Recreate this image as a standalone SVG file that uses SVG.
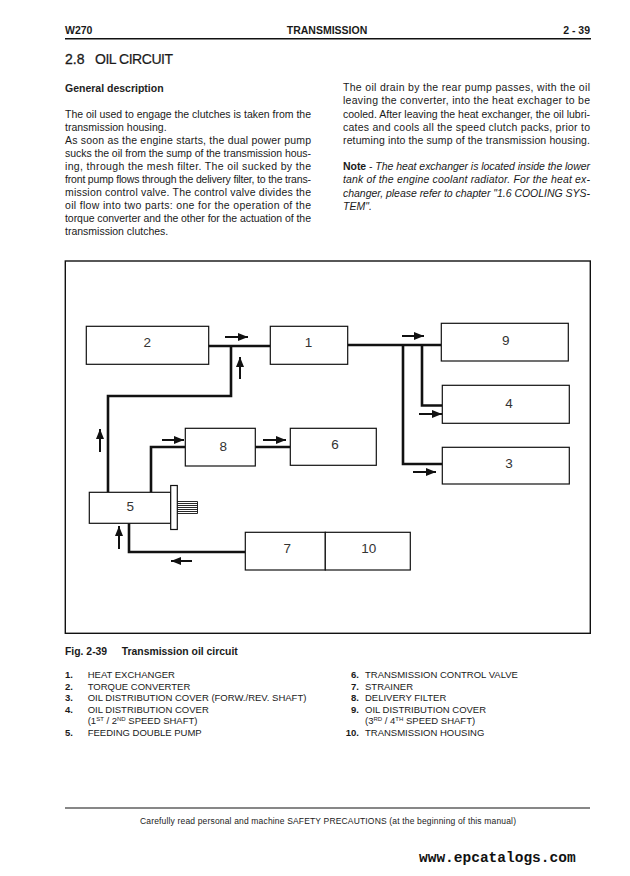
<svg xmlns="http://www.w3.org/2000/svg" width="630" height="876" viewBox="0 0 630 876">
<style>
text{font-family:"Liberation Sans",Arial,sans-serif;fill:#1a1a1a}
.hd{font-size:10.5px;font-weight:bold}
.body{font-size:10.5px}
.it{font-style:italic}
.lg{font-size:9.5px}
.lgn{font-size:9.5px;font-weight:bold}
.num{font-size:13.5px;text-anchor:middle;fill:#333}
.box{fill:#fff;stroke:#111;stroke-width:1.2}
.pipe{fill:none;stroke:#111;stroke-width:2.6;stroke-linejoin:miter}
.arr{fill:none;stroke:#111;stroke-width:2;marker-end:url(#ah)}
.rule{stroke:#111;stroke-width:1.5}
</style>
<defs>
<marker id="ah" markerUnits="userSpaceOnUse" markerWidth="10" markerHeight="8" refX="10" refY="4" orient="auto">
<path d="M0,0 L10,4 L0,8 z" fill="#111"/>
</marker>
</defs>
<rect width="630" height="876" fill="#fff"/>

<!-- header -->
<text class="hd" x="65" y="34">W270</text>
<text class="hd" x="327" y="34" text-anchor="middle">TRANSMISSION</text>
<text class="hd" x="590" y="34" text-anchor="end">2 - 39</text>
<line class="rule" x1="65" y1="38.7" x2="591" y2="38.7"/>
<text x="65" y="64" style="font-size:14px;stroke:#1a1a1a;stroke-width:0.3">2.8</text>
<text x="95" y="64" style="font-size:14px;stroke:#1a1a1a;stroke-width:0.2" textLength="78" lengthAdjust="spacing">OIL CIRCUIT</text>

<!-- left column -->
<text class="hd" x="65" y="92" style="fill:#222">General description</text>
<g class="body">
<text x="65" y="118" textLength="246" lengthAdjust="spacing">The oil used to engage the clutches is taken from the</text>
<text x="65" y="131">transmission housing.</text>
<text x="65" y="144" textLength="246" lengthAdjust="spacing">As soon as the engine starts, the dual power pump</text>
<text x="65" y="157" textLength="246" lengthAdjust="spacing">sucks the oil from the sump of the transmission hous-</text>
<text x="65" y="170" textLength="246" lengthAdjust="spacing">ing, through the mesh filter. The oil sucked by the</text>
<text x="65" y="182.8" textLength="246" lengthAdjust="spacing">front pump flows through the delivery filter, to the trans-</text>
<text x="65" y="195.7" textLength="246" lengthAdjust="spacing">mission control valve. The control valve divides the</text>
<text x="65" y="208.7" textLength="246" lengthAdjust="spacing">oil flow into two parts: one for the operation of the</text>
<text x="65" y="221.6" textLength="246" lengthAdjust="spacing">torque converter and the other for the actuation of the</text>
<text x="65" y="234.6">transmission clutches.</text>
</g>

<!-- right column -->
<g class="body">
<text x="343" y="91" textLength="247" lengthAdjust="spacing">The oil drain by the rear pump passes, with the oil</text>
<text x="343" y="104.3" textLength="247" lengthAdjust="spacing">leaving the converter, into the heat exchager to be</text>
<text x="343" y="117.6" textLength="247" lengthAdjust="spacing">cooled. After leaving the heat exchanger, the oil lubri-</text>
<text x="343" y="130.9" textLength="247" lengthAdjust="spacing">cates and cools all the speed clutch packs, prior to</text>
<text x="343" y="144.2" textLength="247" lengthAdjust="spacing">retuming into the sump of the transmission housing.</text>
<text x="343" y="170" textLength="247" lengthAdjust="spacing"><tspan font-weight="bold">Note</tspan> - <tspan class="it">The heat exchanger is located inside the lower</tspan></text>
<text class="it" x="343" y="183.3" textLength="247" lengthAdjust="spacing">tank of the engine coolant radiator. For the heat ex-</text>
<text class="it" x="343" y="196.6" textLength="247" lengthAdjust="spacing">changer, please refer to chapter "1.6 COOLING SYS-</text>
<text class="it" x="343" y="210">TEM".</text>
</g>

<!-- diagram frame -->
<rect x="65.3" y="261" width="525" height="372.3" fill="none" stroke="#111" stroke-width="1.4"/>

<!-- connectors -->
<g id="connectors">
<polyline class="pipe" points="208,346 270,346"/>
<polyline class="pipe" points="231,346 231,396 108,396 108,492"/>
<polyline class="pipe" points="348,345 441,345"/>
<polyline class="pipe" points="403,345 403,464 442,464"/>
<polyline class="pipe" points="422,345 422,405.5 442,405.5"/>
<polyline class="pipe" points="151,492 151,447 185,447"/>
<polyline class="pipe" points="255,447 290,447"/>
<polyline class="pipe" points="129,523 129,552 245,552"/>
<line class="arr" x1="225" y1="337" x2="248" y2="337"/>
<line class="arr" x1="240" y1="379" x2="240" y2="357"/>
<line class="arr" x1="402" y1="336" x2="424" y2="336"/>
<line class="arr" x1="419" y1="414" x2="442" y2="414"/>
<line class="arr" x1="413" y1="472" x2="436" y2="472"/>
<line class="arr" x1="100" y1="452" x2="100" y2="429"/>
<line class="arr" x1="162" y1="440" x2="184" y2="440"/>
<line class="arr" x1="263" y1="440" x2="286" y2="440"/>
<line class="arr" x1="119" y1="549" x2="119" y2="526"/>
<line class="arr" x1="192" y1="561" x2="171" y2="561"/>
</g>

<!-- nodes -->
<g id="node2"><rect class="box" x="86.3" y="326.3" width="122.4" height="38"/><text class="num" x="147.3" y="347">2</text></g>
<g id="node1"><rect class="box" x="270.3" y="326.3" width="77.4" height="38"/><text class="num" x="308.5" y="347">1</text></g>
<g id="node9"><rect class="box" x="441.3" y="323.3" width="127" height="37.7"/><text class="num" x="505.7" y="345">9</text></g>
<g id="node4"><rect class="box" x="442.3" y="385.3" width="127" height="38"/><text class="num" x="509" y="407.5">4</text></g>
<g id="node3"><rect class="box" x="442.3" y="447.3" width="127" height="36.7"/><text class="num" x="509" y="468">3</text></g>
<g id="node8"><rect class="box" x="185.3" y="428.3" width="70" height="37.7"/><text class="num" x="223.3" y="450.5">8</text></g>
<g id="node6"><rect class="box" x="290.3" y="428.3" width="86" height="37"/><text class="num" x="335" y="448.5">6</text></g>
<g id="node5">
<rect class="box" x="89.3" y="492.3" width="81.4" height="31"/>
<text class="num" x="130.3" y="511">5</text>
<rect class="box" x="170.7" y="485.5" width="6.6" height="44"/>
<g stroke="#111" stroke-width="0.9">
<line x1="177.3" y1="501.5" x2="197.5" y2="501.5"/>
<line x1="177.3" y1="503.5" x2="197.5" y2="503.5"/>
<line x1="177.3" y1="505.5" x2="197.5" y2="505.5"/>
<line x1="177.3" y1="507.5" x2="197.5" y2="507.5"/>
<line x1="177.3" y1="509.5" x2="197.5" y2="509.5"/>
<line x1="177.3" y1="511.5" x2="197.5" y2="511.5"/>
<line x1="177.3" y1="513.5" x2="197.5" y2="513.5"/>
<line x1="197.5" y1="501.5" x2="197.5" y2="513.5"/>
</g>
</g>
<g id="node7"><rect class="box" x="245.3" y="532.3" width="80" height="37.7"/><text class="num" x="287.3" y="552.5">7</text></g>
<g id="node10"><rect class="box" x="325.3" y="532.3" width="85" height="37.7"/><text class="num" x="368.7" y="552.5">10</text></g>

<!-- caption and legend -->
<text x="65" y="655" style="font-size:10.4px;font-weight:bold">Fig. 2-39</text>
<text x="121.7" y="655" style="font-size:10.4px;font-weight:bold">Transmission oil circuit</text>
<g>
<text class="lgn" x="65" y="678">1.</text><text class="lg" x="87.7" y="678">HEAT EXCHANGER</text>
<text class="lgn" x="65" y="689.5">2.</text><text class="lg" x="87.7" y="689.5">TORQUE CONVERTER</text>
<text class="lgn" x="65" y="701">3.</text><text class="lg" x="87.7" y="701">OIL DISTRIBUTION COVER (FORW./REV. SHAFT)</text>
<text class="lgn" x="65" y="712.5">4.</text><text class="lg" x="87.7" y="712.5">OIL DISTRIBUTION COVER</text>
<text class="lg" x="87.7" y="724">(1<tspan font-size="6" dy="-3.5">ST</tspan><tspan dy="3.5"> / 2</tspan><tspan font-size="6" dy="-3.5">ND</tspan><tspan dy="3.5"> SPEED SHAFT)</tspan></text>
<text class="lgn" x="65" y="735.5">5.</text><text class="lg" x="87.7" y="735.5">FEEDING DOUBLE PUMP</text>

<text class="lgn" x="359" y="678" text-anchor="end">6.</text><text class="lg" x="365" y="678">TRANSMISSION CONTROL VALVE</text>
<text class="lgn" x="359" y="689.5" text-anchor="end">7.</text><text class="lg" x="365" y="689.5">STRAINER</text>
<text class="lgn" x="359" y="701" text-anchor="end">8.</text><text class="lg" x="365" y="701">DELIVERY FILTER</text>
<text class="lgn" x="359" y="712.5" text-anchor="end">9.</text><text class="lg" x="365" y="712.5">OIL DISTRIBUTION COVER</text>
<text class="lg" x="365" y="724">(3<tspan font-size="6" dy="-3.5">RD</tspan><tspan dy="3.5"> / 4</tspan><tspan font-size="6" dy="-3.5">TH</tspan><tspan dy="3.5">  SPEED SHAFT)</tspan></text>
<text class="lgn" x="359" y="735.5" text-anchor="end">10.</text><text class="lg" x="365" y="735.5">TRANSMISSION HOUSING</text>
</g>

<!-- footer -->
<line class="rule" x1="65" y1="808" x2="590" y2="808" style="stroke-width:1.2"/>
<text x="328" y="824" text-anchor="middle" style="font-size:8.5px" textLength="376" lengthAdjust="spacing">Carefully read personal and machine SAFETY PRECAUTIONS (at the beginning of this manual)</text>
<text x="419" y="862" style="font-family:'Liberation Mono','Courier New',monospace;font-size:14.5px;font-weight:bold;fill:#111">www.epcatalogs.com</text>
</svg>
